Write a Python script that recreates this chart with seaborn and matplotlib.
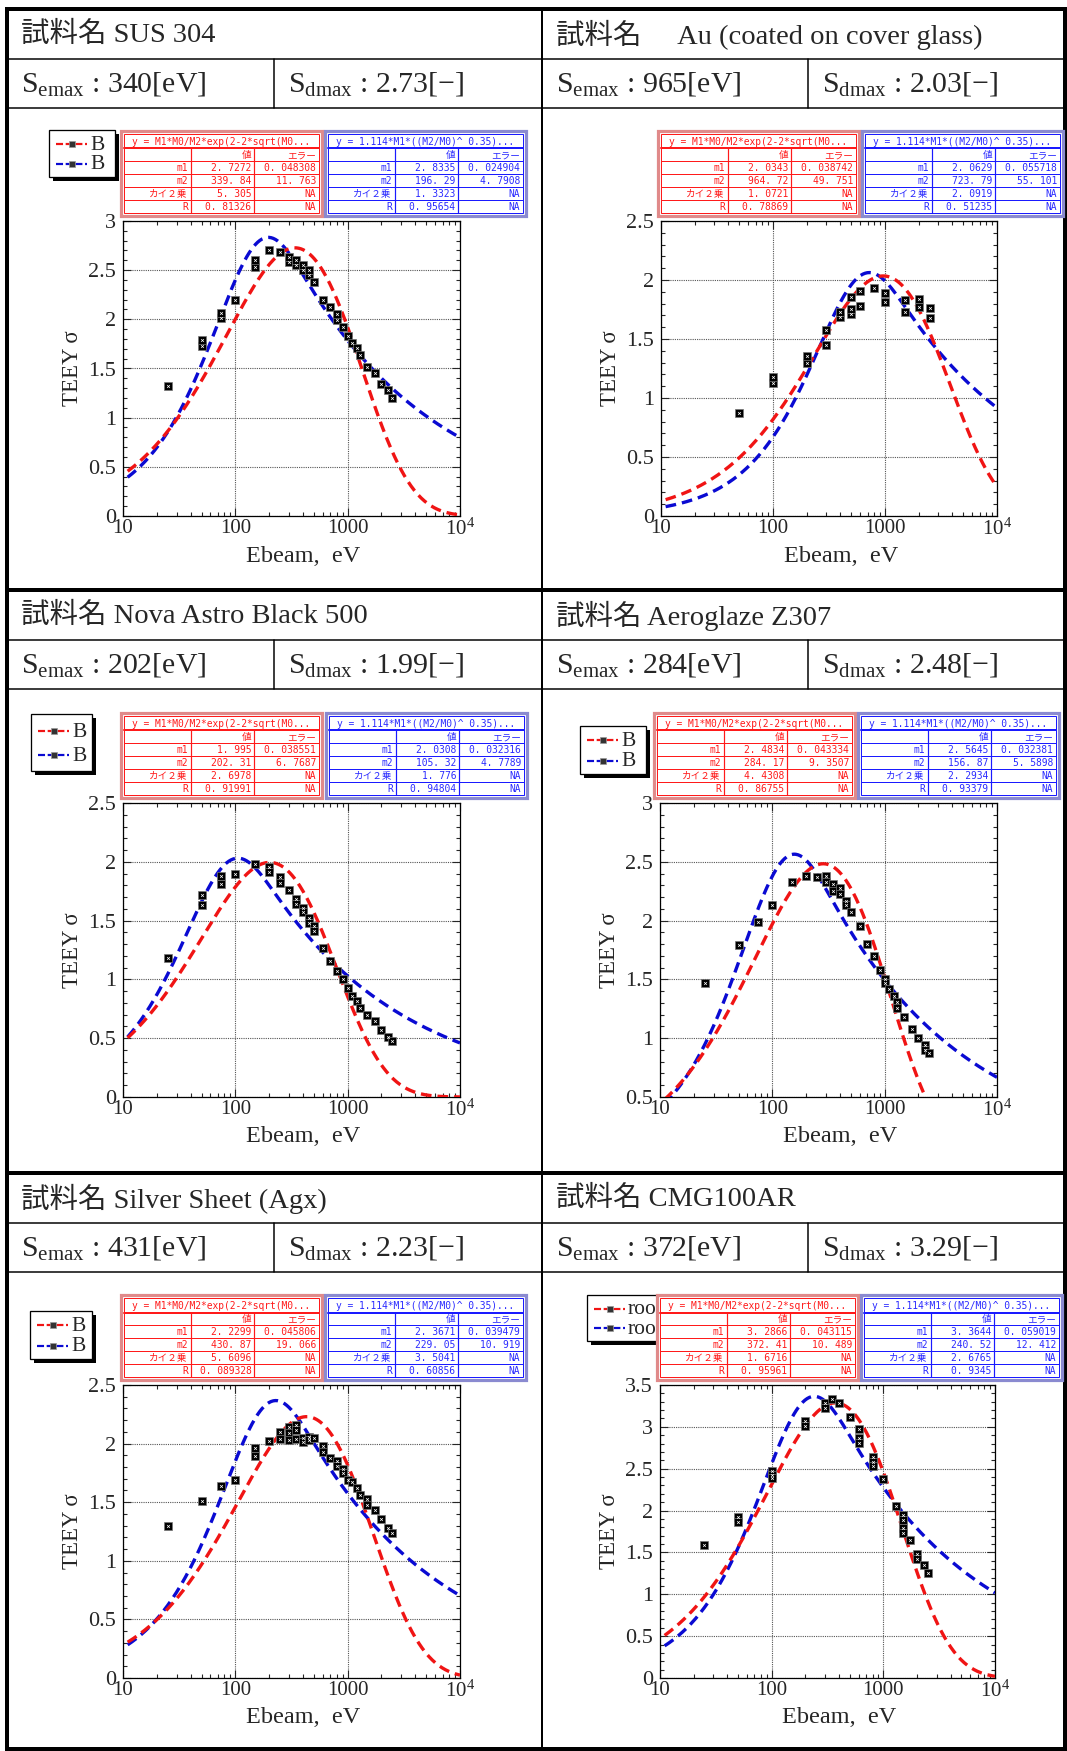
import numpy as np
import pandas as pd
import matplotlib
matplotlib.use("Agg")
import matplotlib.pyplot as plt
import seaborn as sns
from matplotlib.patches import Rectangle
from matplotlib.ticker import MultipleLocator, FixedLocator, LogLocator, NullFormatter, FuncFormatter

sns.set_style("ticks")
plt.rcParams['font.family'] = ['Liberation Serif', 'Noto Sans CJK JP', 'DejaVu Sans']
plt.rcParams['mathtext.fontset'] = 'custom'
plt.rcParams['mathtext.rm'] = 'Liberation Serif'
plt.rcParams['mathtext.it'] = 'Liberation Serif:italic'
plt.rcParams['axes.unicode_minus'] = False

# ---------------- data ----------------
samples = ["SUS 304", "\u3000Au (coated on cover glass)", "Nova Astro Black 500",
           "Aeroglaze Z307", "Silver Sheet (Agx)", "CMG100AR"]
semax = [340, 965, 202, 284, 431, 372]
sdmax = [2.73, 2.03, 1.99, 2.48, 2.23, 3.29]
ylims = [(0, 3), (0, 2.5), (0, 2.5), (0.5, 3), (0, 2.5), (0, 3.5)]
legend_labels = ["B", None, "B", "B", "B", "room"]

# fit results (red: universal curve, blue: power-law curve)
red_m1 = [2.7272, 2.0343, 1.995, 2.4834, 2.2299, 3.2866]
red_m1_err = [0.048308, 0.038742, 0.038551, 0.043334, 0.045806, 0.043115]
red_m2 = [339.84, 964.72, 202.31, 284.17, 430.87, 372.41]
red_m2_err = [11.763, 49.751, 6.7687, 9.3507, 19.066, 10.489]
red_chi2 = [5.305, 1.0721, 2.6978, 4.4308, 5.6096, 1.6716]
red_R = [0.81326, 0.78869, 0.91991, 0.86755, 0.089328, 0.95961]

blue_m1 = [2.8335, 2.0629, 2.0308, 2.5645, 2.3671, 3.3644]
blue_m1_err = [0.024904, 0.055718, 0.032316, 0.032381, 0.039479, 0.059019]
blue_m2 = [196.29, 723.79, 105.32, 156.87, 229.05, 240.52]
blue_m2_err = [4.7908, 55.101, 4.7789, 5.5898, 10.919, 12.412]
blue_chi2 = [1.3323, 2.0919, 1.776, 2.2934, 3.5041, 2.6765]
blue_R = [0.95654, 0.51235, 0.94804, 0.93379, 0.60856, 0.9345]

red_title = "y = M1*M0/M2*exp(2-2*sqrt(M0..."
blue_title = "y = 1.114*M1*((M2/M0)^ 0.35)..."

# measured TEEY points
e1 = [25, 50, 50, 75, 75, 100, 150, 150, 200, 250, 300, 300, 350, 350, 400, 400, 450, 450, 500,
      600, 700, 800, 800, 900, 1000, 1100, 1200, 1300, 1500, 1750, 2000, 2300, 2500]
t1 = [1.32, 1.73, 1.79, 2.01, 2.06, 2.20, 2.53, 2.60, 2.71, 2.68, 2.58, 2.63, 2.55, 2.60, 2.50, 2.55,
      2.45, 2.50, 2.38, 2.20, 2.13, 1.99, 2.05, 1.92, 1.83, 1.76, 1.71, 1.64, 1.52, 1.45, 1.34, 1.28, 1.20]
e2 = [50, 100, 100, 200, 200, 300, 300, 400, 400, 500, 500, 500, 600, 600, 800, 1000, 1000,
      1500, 1500, 2000, 2000, 2500, 2500]
t2 = [0.87, 1.13, 1.18, 1.30, 1.36, 1.58, 1.45, 1.69, 1.73, 1.86, 1.71, 1.75, 1.91, 1.78, 1.93,
      1.89, 1.81, 1.83, 1.73, 1.84, 1.77, 1.76, 1.68]
e3 = [25, 50, 50, 75, 75, 100, 150, 200, 200, 250, 250, 300, 350, 350, 400, 400, 450, 450, 500, 500,
      600, 700, 800, 900, 1000, 1100, 1200, 1300, 1500, 1750, 2000, 2300, 2500]
t3 = [1.18, 1.72, 1.63, 1.88, 1.81, 1.90, 1.98, 1.96, 1.91, 1.87, 1.82, 1.76, 1.68, 1.64, 1.61, 1.57,
      1.52, 1.48, 1.45, 1.41, 1.27, 1.16, 1.07, 1.00, 0.93, 0.86, 0.82, 0.76, 0.70, 0.65, 0.57, 0.51, 0.48]
e4 = [25, 50, 75, 100, 150, 200, 250, 300, 300, 350, 350, 400, 400, 450, 450, 500, 600, 700, 800,
      900, 1000, 1000, 1100, 1200, 1300, 1300, 1500, 1750, 2000, 2300, 2300, 2500]
t4 = [1.47, 1.79, 1.99, 2.13, 2.33, 2.38, 2.37, 2.38, 2.33, 2.31, 2.25, 2.28, 2.23, 2.17, 2.13, 2.07,
      1.95, 1.80, 1.70, 1.58, 1.50, 1.47, 1.42, 1.36, 1.31, 1.26, 1.18, 1.08, 1.00, 0.94, 0.90, 0.87]
e5 = [25, 50, 75, 100, 150, 150, 200, 250, 250, 300, 300, 300, 350, 350, 350, 400, 400, 450, 450, 500,
      600, 600, 700, 800, 800, 900, 900, 1000, 1100, 1200, 1300, 1500, 1500, 1750, 2000, 2300, 2500]
t5 = [1.30, 1.51, 1.64, 1.69, 1.96, 1.89, 2.02, 2.10, 2.04, 2.14, 2.09, 2.03, 2.16, 2.12, 2.04, 2.05,
      2.01, 2.06, 2.03, 2.05, 1.98, 1.93, 1.88, 1.85, 1.81, 1.78, 1.75, 1.69, 1.67, 1.62, 1.56, 1.53,
      1.48, 1.43, 1.36, 1.28, 1.24]
e6 = [25, 50, 50, 100, 100, 100, 200, 200, 300, 300, 350, 400, 500, 600, 600, 600, 800, 800, 800,
      1000, 1300, 1500, 1500, 1500, 1500, 1750, 2000, 2000, 2300, 2500]
t6 = [1.59, 1.92, 1.86, 2.47, 2.43, 2.39, 3.07, 3.01, 3.29, 3.23, 3.33, 3.29, 3.12, 2.97, 2.87, 2.81,
      2.64, 2.58, 2.53, 2.38, 2.05, 1.95, 1.89, 1.79, 1.73, 1.65, 1.48, 1.42, 1.35, 1.26]
energies = [e1, e2, e3, e4, e5, e6]
teeys = [t1, t2, t3, t4, t5, t6]

xtick_vals = [10, 100, 1000, 10000]
xtick_labels = ["10", "100", "1000", r"$\mathregular{10^4}$"]

# ---------------- layout (pixels) ----------------
W, H = 1067, 1751
PX = 0.72  # px -> pt at dpi 100
fig = plt.figure(figsize=(W / 100, H / 100), dpi=100)


def frect(x0, y0, x1, y1):
    return [x0 / W, 1 - y1 / H, (x1 - x0) / W, (y1 - y0) / H]


bg = fig.add_axes([0, 0, 1, 1], zorder=0)
bg.set_xlim(0, W); bg.set_ylim(H, 0); bg.axis('off')
fg = fig.add_axes([0, 0, 1, 1], zorder=10)
fg.set_xlim(0, W); fg.set_ylim(H, 0); fg.axis('off')
fg.patch.set_alpha(0)

row_tops = [9, 590, 1173]
col_x = [(7, 542), (542, 1066)]
sub_div = [274, 808]

# table frame
bg.add_patch(Rectangle((7, 9), 1058, 1740, fill=False, ec='black', lw=4 * PX))
for yt in row_tops[1:]:
    bg.plot([7, 1065], [yt, yt], color='black', lw=4 * PX)
bg.plot([542, 542], [9, 1749], color='black', lw=2 * PX)
for yt in row_tops:
    bg.plot([7, 1065], [yt + 50, yt + 50], color='black', lw=1.5 * PX)
    bg.plot([7, 1065], [yt + 99, yt + 99], color='black', lw=1.5 * PX)
    for sx in sub_div:
        bg.plot([sx, sx], [yt + 50, yt + 99], color='black', lw=1.5 * PX)

axes_rects = [(123, 221, 460, 516), (661, 221, 997, 516),
              (123, 803, 460, 1097), (660, 803, 997, 1097),
              (123, 1385, 460, 1678), (660, 1385, 995, 1678)]
table_pos = [(121, 325), (658, 862), (121, 326), (654, 858), (121, 325), (657, 861)]
legend_boxes = [(49, 130, 115, 177), None, (31, 714, 92, 771), (580, 726, 646, 774),
                (30, 1311, 92, 1359), (587, 1295, 670, 1341)]

RED = '#f01414'
BLUE = '#0a0ad2'
egrid = np.logspace(np.log10(11), 4, 300)


def fmt(v):
    return repr(v).replace('.', '. ')


def draw_table(ax, x0, y0, title, vals, line_c, pale_c, txt_c):
    w, h = 201, 85
    ax.add_patch(Rectangle((x0, y0), w, h, fc='white', ec=pale_c, lw=3.2 * PX, zorder=20))
    xi0, xi1, yi0, yi1 = x0 + 3, x0 + w - 3, y0 + 3, y0 + h - 3
    ax.add_patch(Rectangle((xi0, yi0), xi1 - xi0, yi1 - yi0, fill=False, ec=line_c, lw=1 * PX, zorder=21))
    yt = yi0 + 14.5
    rh = (yi1 - yt) / 5
    ax.plot([xi0, xi1], [yt, yt], color=line_c, lw=2 * PX, zorder=21)
    for k in range(1, 5):
        ax.plot([xi0, xi1], [yt + k * rh, yt + k * rh], color=line_c, lw=1 * PX, zorder=21)
    cx = [xi0 + (xi1 - xi0) * 0.342, xi0 + (xi1 - xi0) * 0.668]
    for c in cx:
        ax.plot([c, c], [yt, yi1], color=line_c, lw=1.2 * PX, zorder=21)
    tf = dict(family=['DejaVu Sans Mono', 'Noto Sans CJK JP'], fontsize=6.9, color=txt_c, zorder=22,
              va='center')
    ax.text((xi0 + xi1) / 2, (yi0 + yt) / 2 + 0.5, title, ha='center', **tf)
    rights = [cx[0] - 3, cx[1] - 3, xi1 - 3]
    rows = [["", "値", "エラー"]] + vals
    for r, row in enumerate(rows):
        yc = yt + (r + 0.5) * rh + 0.5
        for c, s in enumerate(row):
            ax.text(rights[c], yc, s, ha='right', **tf)


def draw_legend(ax, box, label, clip_x=None):
    x0, y0, x1, y1 = box
    ax.add_patch(Rectangle((x0 + 4, y0 + 4), x1 - x0, y1 - y0, fc='black', ec='black', lw=0, zorder=12))
    ax.add_patch(Rectangle((x0, y0), x1 - x0, y1 - y0, fc='white', ec='black', lw=1.3 * PX, zorder=13))
    hgt = y1 - y0
    for k, col in enumerate([RED, BLUE]):
        yy = y0 + hgt * (0.3 + 0.42 * k)
        ln, = ax.plot([x0 + 7, x0 + 38], [yy, yy], color=col, lw=2.2 * PX, zorder=14)
        ln.set_dashes((3.2, 1.2))
        ax.scatter([x0 + 22.5], [yy], marker='s', s=16, c='#333333', edgecolors='#999999',
                   linewidths=0.5, zorder=15)
        t = ax.text(x0 + 41, yy + 1, label, fontsize=15.5, ha='left', va='center', zorder=15)
        if clip_x is not None:
            clip = Rectangle((x0, y0), clip_x - x0, y1 - y0, transform=ax.transData)
            t.set_clip_path(clip)


for i in range(6):
    col = i % 2
    row = i // 2
    rt = row_tops[row]
    cx0 = col_x[col][0]
    # header texts
    bg.text(cx0 + 14, rt + 26, "試料名 " + samples[i], fontsize=20.5, ha='left', va='center')
    bg.text(cx0 + 14, rt + 75, r"$\mathregular{S_{emax}}$ : " + f"{semax[i]}[eV]", fontsize=21.5,
            ha='left', va='center')
    bg.text(sub_div[col] + 14, rt + 75, r"$\mathregular{S_{dmax}}$ : " + f"{sdmax[i]:.2f}[\u2212]",
            fontsize=21.5, ha='left', va='center')

    ax = fig.add_axes(frect(*axes_rects[i]), zorder=5)
    ax.set_xscale('log')
    df_pts = pd.DataFrame({'Ebeam': energies[i], 'TEEY': teeys[i]})
    df_fit = pd.DataFrame({
        'Ebeam': egrid,
        'red': red_m1[i] * egrid / red_m2[i] * np.exp(2 - 2 * np.sqrt(egrid / red_m2[i])),
        'blue': 1.114 * blue_m1[i] * (blue_m2[i] / egrid) ** 0.35 *
                (1 - np.exp(-2.28 * (egrid / blue_m2[i]) ** 1.35)),
    })
    sns.lineplot(data=df_fit, x='Ebeam', y='blue', ax=ax, color=BLUE, lw=2.4, sort=False,
                 estimator=None, zorder=3)
    sns.lineplot(data=df_fit, x='Ebeam', y='red', ax=ax, color=RED, lw=2.4, sort=False,
                 estimator=None, zorder=3)
    for ln in ax.lines:
        ln.set_dashes((3.2, 1.8))
    sns.scatterplot(data=df_pts, x='Ebeam', y='TEEY', ax=ax, marker='s', s=36, color='black',
                    edgecolor='#777777', linewidth=0.5, zorder=4, legend=False)
    ax.scatter(df_pts['Ebeam'], df_pts['TEEY'], marker='x', s=4, c='white', linewidths=0.5, zorder=5)

    ax.set_xlim(10, 10000)
    ax.set_ylim(*ylims[i])
    ax.xaxis.set_major_locator(FixedLocator(xtick_vals))
    ax.set_xticklabels(xtick_labels)
    ax.xaxis.set_minor_locator(LogLocator(base=10, subs=np.arange(2, 10)))
    ax.xaxis.set_minor_formatter(NullFormatter())
    ax.yaxis.set_major_locator(MultipleLocator(0.5))
    ax.yaxis.set_minor_locator(MultipleLocator(0.1))
    ax.yaxis.set_major_formatter(FuncFormatter(lambda v, p: f"{v:g}"))
    ax.tick_params(which='both', direction='in', top=True, right=True, width=0.8)
    ax.tick_params(which='major', length=6)
    ax.tick_params(which='minor', length=3)
    ax.tick_params(axis='x', which='major', labelsize=15, pad=2)
    ax.tick_params(axis='y', which='major', labelsize=16, pad=5)
    ax.grid(True, which='major', color='#555555', linestyle=(0, (1, 1)), lw=0.8)
    for sp in ax.spines.values():
        sp.set_linewidth(0.9)
        sp.set_color('black')
    ax.set_ylabel("TEEY σ", fontsize=16.5)
    ax.yaxis.set_label_coords(-0.118, 0.5)
    ax.set_xlabel("Ebeam,  eV", fontsize=17.5)
    ax.xaxis.set_label_coords(0.535, -0.1)

    # legend & fit tables
    rx, bx = table_pos[i]
    if legend_boxes[i] is not None:
        lb = legend_boxes[i]
        draw_legend(fg, lb, legend_labels[i], clip_x=rx if lb[2] > rx else None)
    ty = axes_rects[i][1] - 90
    red_vals = [["m1", fmt(red_m1[i]), fmt(red_m1_err[i])],
                ["m2", fmt(red_m2[i]), fmt(red_m2_err[i])],
                ["カイ２乗", fmt(red_chi2[i]), "NA"],
                ["R", fmt(red_R[i]), "NA"]]
    blue_vals = [["m1", fmt(blue_m1[i]), fmt(blue_m1_err[i])],
                 ["m2", fmt(blue_m2[i]), fmt(blue_m2_err[i])],
                 ["カイ２乗", fmt(blue_chi2[i]), "NA"],
                 ["R", fmt(blue_R[i]), "NA"]]
    draw_table(fg, rx, ty, red_title, red_vals, '#ff1a1a', '#e08a8a', '#ff1a1a')
    draw_table(fg, bx, ty, blue_title, blue_vals, '#1a1aff', '#8a8ad0', '#2a2aff')

fig.savefig("out.png", dpi=100)
